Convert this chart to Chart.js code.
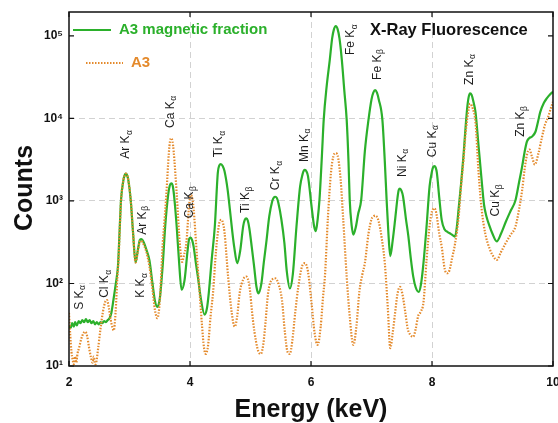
<!DOCTYPE html>
<html>
<head>
<meta charset="utf-8">
<script src="https://cdn.jsdelivr.net/npm/chart.js@4.4.1/dist/chart.umd.min.js"></script>
<style>
  html, body { margin: 0; padding: 0; background: #ffffff; }
  #wrap { width: 558px; height: 423px; }
</style>
</head>
<body>
<div id="wrap"><canvas id="xrf" width="558" height="423"></canvas></div>
<script>
// XRF spectra as [energy (keV), counts] pairs
const magSpectrum = [
  [2.00, 31], [2.03, 29], [2.05, 33], [2.08, 30], [2.10, 34], [2.13, 31], [2.16, 35], [2.19, 33], [2.22, 36],
  [2.25, 34], [2.28, 37], [2.31, 34], [2.34, 36], [2.37, 33], [2.40, 35], [2.43, 32], [2.46, 34], [2.49, 32],
  [2.52, 34], [2.55, 33], [2.58, 35], [2.61, 34], [2.64, 36], [2.67, 38], [2.70, 44], [2.73, 60], [2.76, 85],
  [2.79, 120], [2.81, 165], [2.84, 500], [2.86, 1030], [2.90, 1800], [2.92, 2050], [2.94, 2140], [2.96, 2050],
  [2.98, 1800], [3.02, 1030], [3.06, 400], [3.10, 180], [3.14, 260], [3.17, 335], [3.19, 345], [3.21, 338],
  [3.24, 310], [3.28, 255], [3.33, 190], [3.38, 100], [3.42, 62], [3.46, 52], [3.50, 65], [3.55, 170],
  [3.59, 490], [3.64, 1200], [3.665, 1530], [3.69, 1630], [3.715, 1520], [3.74, 1100], [3.78, 490], [3.82, 180],
  [3.86, 84], [3.91, 110], [3.96, 250], [3.985, 345], [4.01, 360], [4.035, 335], [4.06, 280], [4.10, 170],
  [4.13, 121], [4.18, 65], [4.24, 42], [4.28, 50], [4.31, 76], [4.36, 200], [4.41, 490], [4.46, 2200],
  [4.485, 2700], [4.51, 2800], [4.54, 2650], [4.57, 2300], [4.62, 1400], [4.66, 780], [4.70, 420], [4.73, 280],
  [4.78, 176], [4.83, 250], [4.88, 500], [4.905, 590], [4.93, 615], [4.955, 580], [4.98, 470], [5.02, 280],
  [5.06, 160], [5.10, 90], [5.13, 76], [5.18, 100], [5.22, 180], [5.26, 310], [5.31, 650], [5.36, 1000],
  [5.385, 1100], [5.41, 1125], [5.435, 1090], [5.46, 950], [5.51, 600], [5.56, 310], [5.60, 140], [5.65, 87],
  [5.70, 130], [5.76, 490], [5.82, 1500], [5.86, 2100], [5.88, 2320], [5.90, 2380], [5.925, 2280], [5.95, 2000],
  [6.01, 850], [6.05, 500], [6.08, 430], [6.11, 600], [6.14, 1030], [6.18, 3500], [6.21, 9600], [6.26, 25000],
  [6.31, 51000], [6.35, 94000], [6.38, 121000], [6.41, 132000], [6.44, 121000], [6.47, 94000], [6.51, 51000],
  [6.55, 22000], [6.59, 9600], [6.62, 3000], [6.64, 1030], [6.67, 520], [6.70, 390], [6.74, 480], [6.78, 700],
  [6.83, 1030], [6.89, 4000], [6.95, 9600], [7.00, 17000], [7.03, 20500], [7.06, 22100], [7.09, 20500],
  [7.12, 17000], [7.18, 9600], [7.22, 3000], [7.25, 1030], [7.28, 400], [7.31, 215], [7.35, 330], [7.39, 590],
  [7.43, 1100], [7.45, 1360], [7.47, 1415], [7.495, 1330], [7.52, 1150], [7.57, 600], [7.61, 370], [7.65, 200],
  [7.69, 121], [7.73, 90], [7.78, 79], [7.82, 100], [7.86, 180], [7.91, 490], [7.96, 1500], [8.00, 2300],
  [8.02, 2580], [8.04, 2650], [8.06, 2550], [8.08, 2200], [8.12, 1100], [8.16, 590], [8.21, 450], [8.26, 420],
  [8.31, 400], [8.35, 380], [8.38, 370], [8.41, 480], [8.44, 800], [8.48, 1600], [8.52, 3500], [8.55, 7000],
  [8.58, 13000], [8.605, 18000], [8.63, 20200], [8.655, 19300], [8.68, 16500], [8.72, 11800], [8.77, 4600],
  [8.82, 1800], [8.86, 900], [8.90, 650], [8.95, 500], [9.00, 400], [9.07, 323], [9.14, 400], [9.22, 560],
  [9.30, 760], [9.38, 1020], [9.44, 1700], [9.49, 2620], [9.53, 3900], [9.57, 5260], [9.61, 5800], [9.65, 6000],
  [9.71, 6900], [9.75, 9000], [9.79, 12000], [9.85, 15500], [9.90, 17600], [9.95, 19500], [10.00, 21000]
];

const bulkSpectrum = [
  [2.00, 44], [2.02, 24], [2.04, 15], [2.06, 12], [2.08, 10.5], [2.10, 13], [2.12, 11], [2.14, 14], [2.17, 17],
  [2.20, 21], [2.24, 25], [2.27, 26], [2.30, 23], [2.33, 17], [2.36, 13], [2.39, 11], [2.41, 13], [2.43, 10.5],
  [2.45, 11], [2.48, 16], [2.52, 28], [2.56, 45], [2.60, 60], [2.63, 63], [2.66, 50], [2.69, 36], [2.72, 29],
  [2.74, 27], [2.77, 45], [2.80, 120], [2.82, 200], [2.84, 480], [2.86, 1000], [2.90, 1800], [2.92, 2050],
  [2.94, 2140], [2.96, 2050], [2.98, 1800], [3.02, 1030], [3.06, 400], [3.10, 180], [3.14, 250], [3.17, 320],
  [3.19, 330], [3.21, 322], [3.24, 290], [3.28, 240], [3.33, 160], [3.38, 85], [3.42, 48], [3.46, 38],
  [3.50, 60], [3.55, 310], [3.58, 600], [3.61, 1230], [3.65, 3800], [3.67, 5300], [3.69, 5760], [3.71, 5300],
  [3.73, 4000], [3.78, 1230], [3.83, 310], [3.87, 182], [3.90, 220], [3.94, 310], [3.98, 800], [4.00, 1100],
  [4.02, 1180], [4.04, 1050], [4.06, 800], [4.10, 310], [4.13, 150], [4.16, 76], [4.20, 30], [4.23, 17],
  [4.26, 14], [4.28, 15], [4.30, 18], [4.34, 40], [4.38, 76], [4.43, 250], [4.48, 520], [4.50, 580],
  [4.52, 590], [4.545, 540], [4.57, 420], [4.63, 121], [4.69, 44], [4.74, 30], [4.78, 40], [4.82, 76],
  [4.88, 112], [4.93, 121], [4.98, 95], [5.04, 36], [5.09, 20], [5.13, 15], [5.17, 14], [5.21, 18],
  [5.25, 35], [5.29, 76], [5.35, 110], [5.41, 115], [5.47, 95], [5.52, 63], [5.57, 25], [5.61, 15],
  [5.65, 14], [5.69, 20], [5.74, 45], [5.79, 91], [5.85, 160], [5.90, 176], [5.95, 140], [6.01, 57],
  [6.06, 25], [6.11, 18], [6.16, 30], [6.20, 70], [6.23, 121], [6.28, 640], [6.33, 2200], [6.37, 3500],
  [6.39, 3750], [6.41, 3810], [6.43, 3700], [6.45, 3300], [6.49, 1800], [6.53, 640], [6.59, 121], [6.64, 40],
  [6.70, 18], [6.75, 30], [6.80, 80], [6.85, 130], [6.89, 176], [6.95, 400], [7.00, 600], [7.03, 645],
  [7.06, 663], [7.09, 640], [7.12, 560], [7.17, 350], [7.22, 176], [7.27, 50], [7.31, 16.5], [7.35, 25],
  [7.39, 44], [7.43, 75], [7.47, 91], [7.51, 75], [7.56, 44], [7.60, 28], [7.64, 24], [7.69, 22.6],
  [7.73, 28], [7.77, 40], [7.81, 45], [7.86, 60], [7.91, 193], [7.96, 500], [8.00, 750], [8.02, 800],
  [8.04, 815], [8.06, 770], [8.08, 650], [8.12, 400], [8.16, 280], [8.21, 150], [8.25, 133], [8.29, 145],
  [8.33, 200], [8.38, 300], [8.44, 640], [8.48, 1500], [8.52, 3100], [8.55, 6000], [8.58, 9600], [8.61, 13500],
  [8.63, 15100], [8.65, 14600], [8.67, 13500], [8.72, 8800], [8.77, 2200], [8.82, 800], [8.88, 405], [8.96, 255],
  [9.02, 210], [9.07, 193], [9.14, 240], [9.22, 310], [9.30, 390], [9.38, 490], [9.44, 800], [9.49, 1350],
  [9.53, 2400], [9.57, 3650], [9.61, 4200], [9.65, 3500], [9.70, 2760], [9.76, 3800], [9.82, 6030], [9.87, 8500],
  [9.92, 10400], [9.96, 13000], [10.00, 15900]
];

// Emission line annotations: line name, subscript, energy (keV), counts at the foot of the label
const lineNames  = ['S K', 'Cl K', 'Ar K', 'K K', 'Ar K', 'Ca K', 'Ca K', 'Ti K', 'Ti K', 'Cr K', 'Mn K', 'Fe K', 'Fe K', 'Ni K', 'Cu K', 'Zn K', 'Cu K', 'Zn K'];
const lineSubs   = ['α', 'α', 'α', 'α', 'β', 'α', 'β', 'α', 'β', 'α', 'α', 'α', 'β', 'α', 'α', 'α', 'β', 'β'];
const lineEnergy = [2.17, 2.59, 2.94, 3.19, 3.21, 3.68, 4.00, 4.48, 4.92, 5.42, 5.89, 6.66, 7.10, 7.51, 8.01, 8.62, 9.06, 9.47];
const lineFoot   = [48, 67, 3250, 67, 390, 7680, 618, 3390, 716, 1350, 2960, 58700, 29300, 1950, 3390, 25500, 650, 6000];

const xTicks = [2, 4, 6, 8, 10];
const yTicks = [10, 100, 1000, 10000, 100000];
const seriesNames = ['A3 magnetic fraction', 'A3'];

const GREEN = '#2bb02b';
const ORANGE = '#e48a2c';
const FONT = "'Liberation Sans', Arial, Helvetica, sans-serif";
const SUP = { '0': '⁰', '1': '¹', '2': '²', '3': '³', '4': '⁴', '5': '⁵', '6': '⁶', '7': '⁷', '8': '⁸', '9': '⁹' };

function toPoints(pairs) {
  return pairs.map(p => ({ x: p[0], y: p[1] }));
}

const decorations = {
  id: 'decorations',
  afterDatasetsDraw(chart) {
    const { ctx, scales: { x, y } } = chart;
    // emission line labels
    ctx.save();
    ctx.fillStyle = '#1e1e1e';
    for (let i = 0; i < lineNames.length; i++) {
      const px = x.getPixelForValue(lineEnergy[i]);
      const py = y.getPixelForValue(lineFoot[i]);
      ctx.save();
      ctx.translate(px, py);
      ctx.rotate(-Math.PI / 2);
      ctx.textAlign = 'left';
      ctx.textBaseline = 'middle';
      ctx.font = '12px ' + FONT;
      ctx.fillText(lineNames[i], 0, 0);
      const w = ctx.measureText(lineNames[i]).width;
      ctx.font = '8.5px ' + FONT;
      ctx.fillText(lineSubs[i], w + 0.5, 3.5);
      ctx.restore();
    }
    ctx.restore();
  },
  afterDraw(chart) {
    const { ctx, chartArea: a, scales: { x, y } } = chart;
    ctx.save();
    // frame
    ctx.strokeStyle = '#111';
    ctx.lineWidth = 1.5;
    ctx.strokeRect(a.left, a.top, a.right - a.left, a.bottom - a.top);
    // inward tick marks on all four sides
    ctx.lineWidth = 1.2;
    ctx.beginPath();
    xTicks.forEach(v => {
      const px = x.getPixelForValue(v);
      ctx.moveTo(px, a.bottom); ctx.lineTo(px, a.bottom - 5);
      ctx.moveTo(px, a.top); ctx.lineTo(px, a.top + 5);
    });
    yTicks.forEach(v => {
      const py = y.getPixelForValue(v);
      ctx.moveTo(a.left, py); ctx.lineTo(a.left + 5, py);
      ctx.moveTo(a.right, py); ctx.lineTo(a.right - 5, py);
    });
    ctx.stroke();

    // legend
    const ds = chart.data.datasets;
    ctx.textAlign = 'left';
    ctx.textBaseline = 'middle';
    ctx.font = 'bold 15px ' + FONT;
    ctx.lineWidth = 2;
    ctx.strokeStyle = ds[0].borderColor;
    ctx.beginPath(); ctx.moveTo(a.left + 4, 30); ctx.lineTo(a.left + 42, 30); ctx.stroke();
    ctx.fillStyle = ds[0].borderColor;
    ctx.fillText(ds[0].label, a.left + 50, 30);
    ctx.strokeStyle = ds[1].borderColor;
    ctx.setLineDash([1.5, 1.5]);
    ctx.beginPath(); ctx.moveTo(a.left + 17, 63); ctx.lineTo(a.left + 54, 63); ctx.stroke();
    ctx.setLineDash([]);
    ctx.fillStyle = ds[1].borderColor;
    ctx.fillText(ds[1].label, a.left + 62, 63);

    // plot heading
    ctx.fillStyle = '#111';
    ctx.font = 'bold 16.5px ' + FONT;
    ctx.fillText('X-Ray Fluorescence', 370, 30);

    // axis titles
    ctx.textAlign = 'center';
    ctx.textBaseline = 'alphabetic';
    ctx.font = 'bold 25px ' + FONT;
    ctx.fillText('Energy (keV)', (a.left + a.right) / 2, 417);
    ctx.save();
    ctx.translate(32, 188);
    ctx.rotate(-Math.PI / 2);
    ctx.fillText('Counts', 0, 0);
    ctx.restore();
    ctx.restore();
  }
};

new Chart(document.getElementById('xrf'), {
  type: 'line',
  data: {
    datasets: [
      {
        label: seriesNames[0],
        data: toPoints(magSpectrum),
        borderColor: GREEN,
        borderWidth: 2.2,
        pointRadius: 0,
        cubicInterpolationMode: 'monotone',
        order: 1
      },
      {
        label: seriesNames[1],
        data: toPoints(bulkSpectrum),
        borderColor: ORANGE,
        borderWidth: 2.2,
        borderDash: [1.5, 1.5],
        pointRadius: 0,
        cubicInterpolationMode: 'monotone',
        order: 0
      }
    ]
  },
  options: {
    responsive: false,
    animation: false,
    devicePixelRatio: 1,
    layout: { padding: { left: 0, right: 5, top: 12, bottom: 0 } },
    plugins: { legend: { display: false }, tooltip: { enabled: false } },
    scales: {
      x: {
        type: 'linear',
        min: 2,
        max: 10,
        afterBuildTicks: s => { s.ticks = xTicks.map(v => ({ value: v })); },
        afterFit: s => { s.height = 57; s.paddingLeft = 0; s.paddingRight = 0; },
        ticks: {
          color: '#111',
          padding: 9,
          maxRotation: 0,
          font: { family: FONT, size: 12, weight: 'bold' },
          callback: v => String(v)
        },
        grid: {
          drawTicks: false,
          color: c => (c.tick && (c.tick.value === 2 || c.tick.value === 10)) ? 'rgba(0,0,0,0)' : '#d2d2d2',
          lineWidth: 1
        },
        border: { display: false, dash: [6, 4] }
      },
      y: {
        type: 'logarithmic',
        min: 10,
        max: 195000,
        afterBuildTicks: s => { s.ticks = yTicks.map(v => ({ value: v })); },
        afterFit: s => { s.width = 69; s.paddingTop = 0; s.paddingBottom = 0; },
        ticks: {
          color: '#111',
          padding: 6,
          font: { family: FONT, size: 12, weight: 'bold' },
          callback: v => '10' + String(Math.round(Math.log10(v))).split('').map(d => SUP[d]).join('')
        },
        grid: {
          drawTicks: false,
          color: c => (c.tick && (c.tick.value === 10 || c.tick.value === 100000)) ? 'rgba(0,0,0,0)' : '#d2d2d2',
          lineWidth: 1
        },
        border: { display: false, dash: [6, 4] }
      }
    }
  },
  plugins: [decorations]
});
</script>
</body>
</html>
